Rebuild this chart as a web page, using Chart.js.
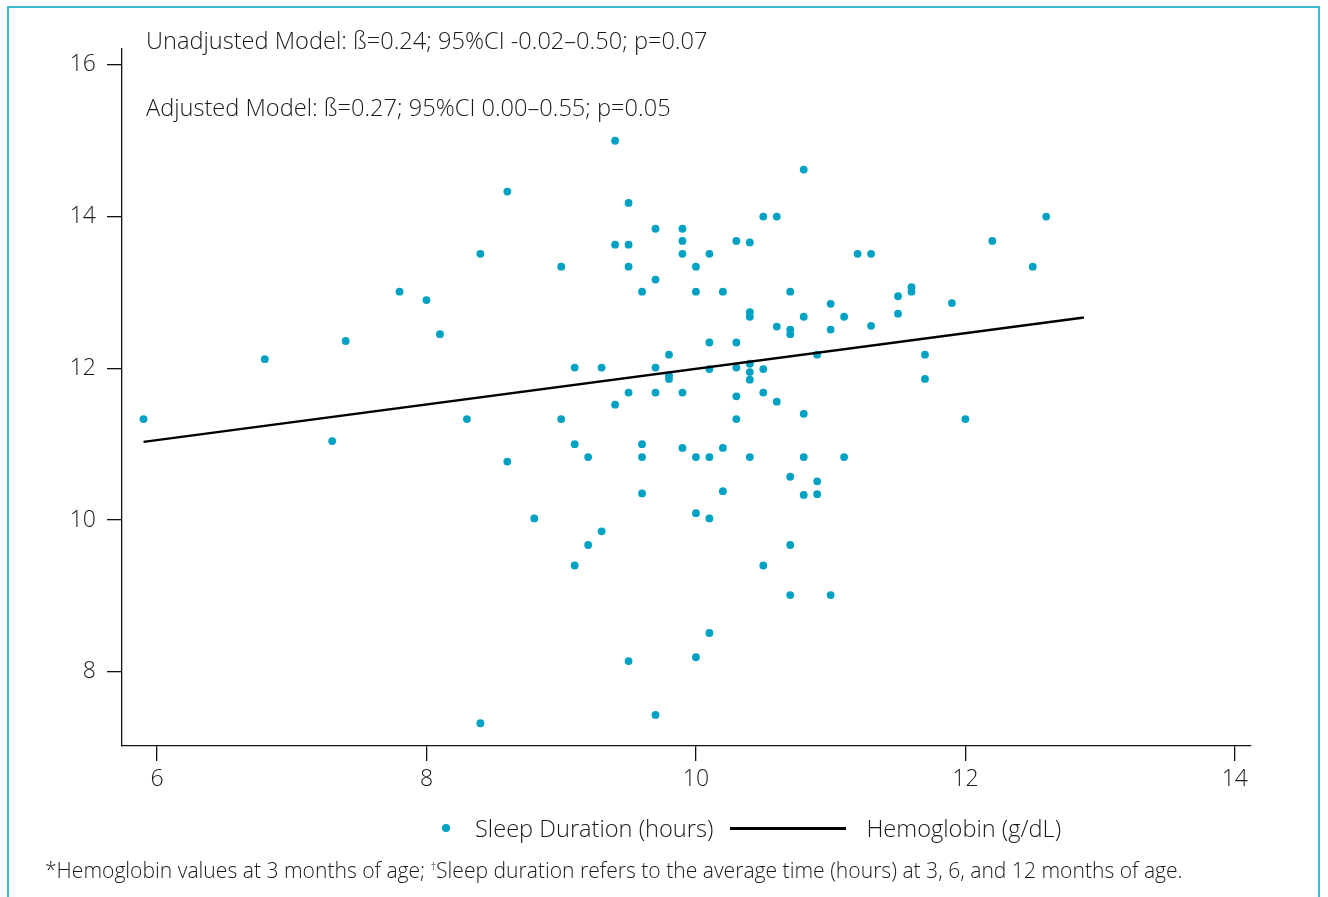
<!DOCTYPE html>
<html>
<head>
<meta charset="utf-8">
<title>Sleep duration and hemoglobin</title>
<script src="https://cdn.jsdelivr.net/npm/chart.js"></script>
<style>
  body { margin: 0; background: #fff; font-family: "Open Sans", sans-serif; font-weight: 300; color: #1a1a1a; }
  #frame { position: absolute; left: 7px; top: 6px; width: 1313px; height: 960px; border: 2px solid #3dbdd0; border-bottom: none; box-sizing: border-box; }
  #wrap { position: absolute; left: 0; top: 0; width: 1328px; height: 897px; }
  .note { position: absolute; left: 146px; font-size: 23.6px; line-height: 30px; white-space: nowrap; }
  #legend { position: absolute; left: 442px; top: 813px; height: 30px; display: flex; align-items: center; font-size: 23.6px; white-space: nowrap; }
  #legend .dot { width: 8px; height: 8px; border-radius: 50%; background: #00a2c3; margin-right: 25px; }
  #legend .bar { width: 116px; height: 3px; background: #000; margin: 0 20px 0 17px; }
  #footnote { position: absolute; left: 45px; top: 853px; font-size: 21.1px; line-height: 26px; white-space: nowrap; }
  #footnote sup { font-size: 11px; vertical-align: 8px; }
</style>
</head>
<body>
<div id="frame"></div>
<div id="wrap"><canvas id="scatter"></canvas></div>
<div class="note" style="top:25px">Unadjusted Model: ß=0.24; 95%CI -0.02–0.50; p=0.07</div>
<div class="note" style="top:92px">Adjusted Model: ß=0.27; 95%CI 0.00–0.55; p=0.05</div>
<div id="legend"><span class="dot"></span><span>Sleep Duration (hours)</span><span class="bar"></span><span>Hemoglobin (g/dL)</span></div>
<div id="footnote">*Hemoglobin values at 3 months of age; <sup>†</sup>Sleep duration refers to the average time (hours) at 3, 6, and 12 months of age.</div>

<script>
// sleep duration (x) and hemoglobin (y)
const sleepHours = [
  5.9, 6.8, 7.3, 7.4, 7.8, 8.0, 8.1, 8.3, 8.4, 8.4,
  8.6, 8.6, 8.8, 9.0, 9.0, 9.1, 9.1, 9.1, 9.2, 9.2,
  9.3, 9.3, 9.4, 9.4, 9.4, 9.5, 9.5, 9.5, 9.5, 9.5,
  9.6, 9.6, 9.6, 9.6, 9.7, 9.7, 9.7, 9.7, 9.7, 9.8,
  9.8, 9.8, 9.9, 9.9, 9.9, 9.9, 9.9, 10.0, 10.0, 10.0,
  10.0, 10.0, 10.1, 10.1, 10.1, 10.1, 10.1, 10.1, 10.2, 10.2,
  10.2, 10.3, 10.3, 10.3, 10.3, 10.3, 10.4, 10.4, 10.4, 10.4,
  10.4, 10.4, 10.4, 10.5, 10.5, 10.5, 10.5, 10.6, 10.6, 10.6,
  10.7, 10.7, 10.7, 10.7, 10.7, 10.7, 10.8, 10.8, 10.8, 10.8,
  10.8, 10.9, 10.9, 10.9, 11.0, 11.0, 11.0, 11.1, 11.1, 11.2,
  11.3, 11.3, 11.5, 11.5, 11.6, 11.6, 11.7, 11.7, 11.9, 12.0,
  12.2, 12.5, 12.6
];
const hemoglobin = [
  11.33, 12.12, 11.04, 12.36, 13.01, 12.90, 12.45, 11.33, 13.51, 7.32,
  14.33, 10.77, 10.02, 13.34, 11.33, 12.01, 11.00, 9.40, 10.83, 9.67,
  12.01, 9.85, 15.00, 13.63, 11.52, 14.18, 13.63, 13.34, 11.68, 8.14,
  13.01, 11.00, 10.83, 10.35, 13.84, 13.17, 12.01, 11.68, 7.43, 12.18,
  11.91, 11.86, 13.84, 13.68, 13.51, 11.68, 10.95, 13.34, 13.01, 10.83,
  10.09, 8.19, 13.51, 12.34, 11.99, 10.83, 10.02, 8.51, 13.01, 10.95,
  10.38, 13.68, 12.34, 12.01, 11.63, 11.33, 13.66, 12.74, 12.68, 12.06,
  11.95, 11.85, 10.83, 14.00, 11.99, 11.68, 9.40, 14.00, 12.55, 11.56,
  13.01, 12.51, 12.45, 10.57, 9.67, 9.01, 14.62, 12.68, 11.40, 10.83,
  10.33, 12.18, 10.51, 10.34, 12.85, 12.51, 9.01, 12.68, 10.83, 13.51,
  13.51, 12.56, 12.95, 12.72, 13.07, 13.01, 12.18, 11.86, 12.86, 11.33,
  13.68, 13.34, 14.00
];

// fitted line end points
const fitX = [5.9, 12.88];
const fitY = [11.03, 12.67];

const xTicks = [6, 8, 10, 12, 14];
const yTicks = [8, 10, 12, 14, 16];

const tickFont = { family: 'Open Sans', size: 23, weight: 300 };

function axisLook(ticks, padding) {
  return {
    type: 'linear',
    afterBuildTicks: s => { s.ticks = ticks.map(v => ({ value: v })); },
    grid: { display: true, drawOnChartArea: false, drawTicks: true, tickLength: 15, color: '#111', lineWidth: 1.3 },
    border: { display: true, color: '#111', width: 1.3 },
    ticks: { font: tickFont, color: '#1a1a1a', padding: padding, maxRotation: 0 }
  };
}

const xAxis = Object.assign(axisLook(xTicks, 5), { min: 5.74, max: 14.12, afterFit: s => { s.height = 60; } });
const yAxis = Object.assign(axisLook(yTicks, 11), { min: 7.02, max: 16.21, afterFit: s => { s.width = 122; } });

new Chart(document.getElementById('scatter'), {
  type: 'scatter',
  data: {
    datasets: [
      {
        type: 'line',
        label: 'Hemoglobin (g/dL)',
        data: fitX.map((x, i) => ({ x: x, y: fitY[i] })),
        borderColor: '#000',
        borderWidth: 2.3,
        pointRadius: 0,
        fill: false
      },
      {
        label: 'Sleep Duration (hours)',
        data: sleepHours.map((x, i) => ({ x: x, y: hemoglobin[i] })),
        backgroundColor: '#00a2c3',
        borderWidth: 0,
        pointRadius: 3.9
      }
    ]
  },
  options: {
    responsive: true,
    maintainAspectRatio: false,
    animation: false,
    layout: { padding: { left: 0, top: 49, right: 77, bottom: 91 } },
    scales: { x: xAxis, y: yAxis },
    plugins: { legend: { display: false }, tooltip: { enabled: false } }
  }
});
</script>
</body>
</html>
